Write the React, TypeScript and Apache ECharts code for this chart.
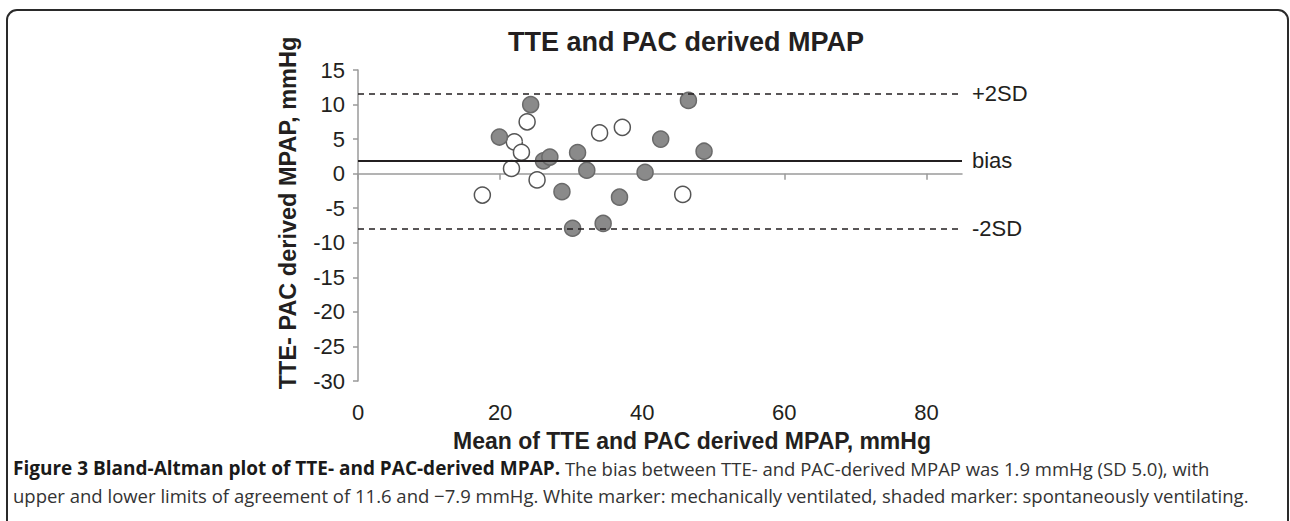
import React, { useEffect, useRef } from "react";
import * as echarts from "echarts";

// ---- data ----
const xTickValues = [0, 20, 40, 60, 80];
const mechVentX = [17.5, 21.6, 22.0, 23.0, 23.8, 25.2, 34.0, 37.2, 45.7];
const mechVentY = [-3.1, 0.75, 4.6, 3.1, 7.5, -0.9, 5.9, 6.7, -3.0];
const spontX = [19.9, 24.3, 26.1, 27.0, 28.7, 30.9, 32.2, 30.2, 34.5, 36.8, 40.4, 42.6, 46.5, 48.7];
const spontY = [5.3, 10.0, 1.85, 2.4, -2.6, 3.05, 0.5, -7.9, -7.2, -3.4, 0.2, 5.0, 10.6, 3.25];
const limitLabels = ["+2SD", "bias", "-2SD"];
const limitValues = [11.6, 1.9, -7.9];
const limitDashed = [true, false, true];

const chartTitle = "TTE and PAC derived MPAP";
const xName = "Mean of TTE and PAC derived MPAP, mmHg";
const yName = "TTE- PAC derived MPAP, mmHg";
const captionBold = "Figure 3 Bland-Altman plot of TTE- and PAC-derived MPAP.";
const captionLine1 = " The bias between TTE- and PAC-derived MPAP was 1.9 mmHg (SD 5.0), with";
const captionLine2 =
  "upper and lower limits of agreement of 11.6 and \u22127.9 mmHg. White marker: mechanically ventilated, shaded marker: spontaneously ventilating.";

const FONT = "'Liberation Sans', Arial, Helvetica, sans-serif";
const CAP_FONT = "'Open Sans', 'Noto Sans', sans-serif";
const INK = "#231f20";

export default function App() {
  const ref = useRef<HTMLDivElement>(null);

  useEffect(() => {
    if (!ref.current) return;
    const chart = echarts.init(ref.current, undefined, { renderer: "svg" });

    const markData = limitValues.map((v, i) => ({
      yAxis: v,
      label: { formatter: limitLabels[i] },
      lineStyle: {
        type: limitDashed[i] ? [6, 5] : "solid",
        width: limitDashed[i] ? 1.5 : 2,
        color: INK,
      },
    }));

    chart.setOption({
      animation: false,
      grid: { left: 358, right: 328, top: 70, bottom: 140 },
      xAxis: {
        type: "value",
        min: 0,
        max: 85,
        interval: 20,
        axisLine: { show: true, lineStyle: { color: "#9a9a9a", width: 1.5 } },
        axisTick: { show: true, length: 6, customValues: xTickValues, lineStyle: { color: "#9a9a9a", width: 1.5 } },
        axisLabel: { customValues: xTickValues, margin: 20, fontFamily: FONT, fontSize: 22, color: INK },
        splitLine: { show: false },
      },
      yAxis: {
        type: "value",
        min: -30,
        max: 15,
        interval: 5,
        axisLine: { show: true, lineStyle: { color: "#9a9a9a", width: 1.5 } },
        axisTick: { show: true, length: 5, lineStyle: { color: "#9a9a9a", width: 1.5 } },
        axisLabel: { margin: 13, fontFamily: FONT, fontSize: 22, color: INK },
        splitLine: { show: false },
      },
      series: [
        {
          type: "scatter",
          data: [],
          z: 1,
          markLine: {
            silent: true,
            symbol: "none",
            animation: false,
            label: {
              show: true,
              position: "end",
              distance: 10,
              fontFamily: FONT,
              fontSize: 22,
              color: INK,
            },
            data: markData,
          },
        },
        {
          type: "scatter",
          name: "mechanically ventilated",
          z: 3,
          symbol: "circle",
          symbolSize: 16,
          itemStyle: { color: "#ffffff", borderColor: "#555555", borderWidth: 1.5, opacity: 1 },
          data: mechVentX.map((x, i) => [x, mechVentY[i]]),
        },
        {
          type: "scatter",
          name: "spontaneously ventilating",
          z: 3,
          symbol: "circle",
          symbolSize: 16,
          itemStyle: { color: "#8a8a8a", borderColor: "#6a6a6a", borderWidth: 1.5, opacity: 1 },
          data: spontX.map((x, i) => [x, spontY[i]]),
        },
      ],
      graphic: [
        {
          type: "rect",
          shape: { x: 7, y: 10, width: 1281, height: 540, r: 10 },
          style: { fill: "none", stroke: "#2a2a2a", lineWidth: 2 },
          silent: true,
          z: -10,
        },
        {
          type: "text",
          x: 686,
          y: 42,
          style: {
            text: chartTitle,
            align: "center",
            verticalAlign: "middle",
            font: `bold 27px ${FONT}`,
            fill: INK,
          },
        },
        {
          type: "text",
          x: 288,
          y: 213,
          rotation: Math.PI / 2,
          style: {
            text: yName,
            align: "center",
            verticalAlign: "middle",
            font: `bold 23.5px ${FONT}`,
            fill: INK,
          },
        },
        {
          type: "text",
          x: 692,
          y: 441,
          style: {
            text: xName,
            align: "center",
            verticalAlign: "middle",
            font: `bold 23px ${FONT}`,
            fill: INK,
          },
        },
        {
          type: "text",
          x: 13,
          y: 468,
          style: {
            text: `{b|${captionBold}}${captionLine1}`,
            align: "left",
            verticalAlign: "middle",
            font: `18.5px ${CAP_FONT}`,
            fill: "#333333",
            rich: {
              b: { font: `bold 19px ${CAP_FONT}`, fill: "#1a1a1a" },
            },
          },
        },
        {
          type: "text",
          x: 13,
          y: 495,
          style: {
            text: captionLine2,
            align: "left",
            verticalAlign: "middle",
            font: `18.5px ${CAP_FONT}`,
            fill: "#333333",
          },
        },
      ],
    });

    return () => chart.dispose();
  }, []);

  return (
    <div
      ref={ref}
      style={{ position: "fixed", left: 0, top: 0, width: 1290, height: 521, background: "#ffffff" }}
    />
  );
}
